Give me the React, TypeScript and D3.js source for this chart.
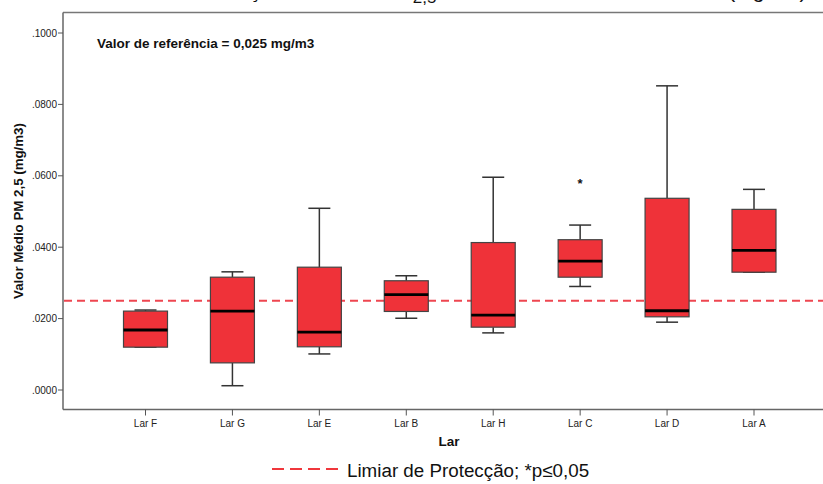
import React from "react";
import * as d3 from "d3";

const categories = ["Lar F", "Lar G", "Lar E", "Lar B", "Lar H", "Lar C", "Lar D", "Lar A"];
const whiskerLow = [0.0120, 0.0012, 0.0101, 0.0201, 0.0160, 0.0290, 0.0190, 0.0330];
const q1 = [0.0120, 0.0076, 0.0121, 0.0220, 0.0176, 0.0316, 0.0205, 0.0330];
const medians = [0.0168, 0.0221, 0.0162, 0.0267, 0.0210, 0.0361, 0.0222, 0.0391];
const q3 = [0.0221, 0.0316, 0.0344, 0.0306, 0.0413, 0.0421, 0.0537, 0.0506];
const whiskerHigh = [0.0224, 0.0331, 0.0509, 0.0320, 0.0596, 0.0462, 0.0852, 0.0562];
const extremeCategory = ["Lar C"];
const extremeValue = [0.0579];
const yTicks = [0, 0.02, 0.04, 0.06, 0.08, 0.1];
const referenceValue = 0.025;

const W = 823;
const H = 484;
const FONT = "'Liberation Sans', Arial, Helvetica, sans-serif";

export default function App() {
  const x = d3.scalePoint<string>().domain(categories).range([145.5, 754]);
  const y = d3.scaleLinear().domain([0, 0.1]).range([390, 33]);
  const left = 63;
  const top = 12.5;
  const bottom = 409.5;
  const boxW = 44;
  const capW = 22;
  const fmt = (v: number) => d3.format(".4f")(v).replace(/^0/, "");

  return (
    <svg width={W} height={H} style={{ position: "absolute", left: 0, top: 0, background: "#fff" }} fontFamily={FONT}>
      {/* cropped caption at top (only its lowest pixels are visible, as in the source) */}
      <text x={44} y={-2} fontSize={21} fill="#111">
        Gráfico 3 – Concentração Média de PM
        <tspan dy={5} fontSize={17}>2,5</tspan>
        <tspan dy={-5}> no interior dos lares de idosos (mg/m3)</tspan>
      </text>

      {/* frame */}
      <line x1={left} x2={W} y1={top} y2={top} stroke="#777" strokeWidth={1.5} />
      <line x1={left} x2={left} y1={top} y2={bottom} stroke="#666" strokeWidth={1.5} />
      <line x1={left} x2={W} y1={bottom} y2={bottom} stroke="#666" strokeWidth={1.5} />

      {/* y ticks */}
      {yTicks.map((t) => (
        <g key={t}>
          <line x1={left - 5} x2={left} y1={y(t)} y2={y(t)} stroke="#555" strokeWidth={1} />
          <text x={left - 6} y={y(t)} dy="0.35em" textAnchor="end" fontSize={10} fill="#222">
            {fmt(t)}
          </text>
        </g>
      ))}

      {/* x ticks */}
      {categories.map((c) => (
        <g key={c}>
          <line x1={x(c)} x2={x(c)} y1={bottom} y2={bottom + 6} stroke="#555" strokeWidth={1} />
          <text x={x(c)} y={423} dy="0.35em" textAnchor="middle" fontSize={10} fill="#222">
            {c}
          </text>
        </g>
      ))}

      {/* axis titles */}
      <text x={449} y={441} dy="0.35em" textAnchor="middle" fontSize={13.5} fontWeight="bold" fill="#111">
        Lar
      </text>
      <text
        transform={`translate(18, ${(top + bottom) / 2}) rotate(-90)`}
        dy="0.35em"
        textAnchor="middle"
        fontSize={13.3}
        fontWeight="bold"
        fill="#111"
      >
        Valor Médio PM 2,5 (mg/m3)
      </text>

      <text x={97} y={43} dy="0.35em" fontSize={13.5} fontWeight="bold" fill="#111">
        Valor de referência = 0,025 mg/m3
      </text>

      {/* reference line */}
      <line
        x1={left + 1}
        x2={W}
        y1={y(referenceValue)}
        y2={y(referenceValue)}
        stroke="#EE4650"
        strokeWidth={2}
        strokeDasharray="8,5"
      />

      {/* boxes */}
      {categories.map((c, i) => {
        const cx = x(c) as number;
        return (
          <g key={c}>
            <line x1={cx} x2={cx} y1={y(whiskerHigh[i])} y2={y(q3[i])} stroke="#333" strokeWidth={1.5} />
            <line x1={cx} x2={cx} y1={y(q1[i])} y2={y(whiskerLow[i])} stroke="#333" strokeWidth={1.5} />
            <line x1={cx - capW / 2} x2={cx + capW / 2} y1={y(whiskerHigh[i])} y2={y(whiskerHigh[i])} stroke="#333" strokeWidth={1.5} />
            <line x1={cx - capW / 2} x2={cx + capW / 2} y1={y(whiskerLow[i])} y2={y(whiskerLow[i])} stroke="#333" strokeWidth={1.5} />
            <rect
              x={cx - boxW / 2}
              y={y(q3[i])}
              width={boxW}
              height={y(q1[i]) - y(q3[i])}
              fill="#EF3239"
              stroke="#444"
              strokeWidth={1.2}
            />
            <line x1={cx - boxW / 2} x2={cx + boxW / 2} y1={y(medians[i])} y2={y(medians[i])} stroke="#000" strokeWidth={2.8} />
          </g>
        );
      })}

      {/* extremes */}
      {extremeCategory.map((c, i) => (
        <text key={c} x={x(c)} y={y(extremeValue[i]) + 5} textAnchor="middle" fontSize={13} fontWeight="bold" fill="#111">
          *
        </text>
      ))}

      {/* legend */}
      <line x1={272} x2={338} y1={469} y2={469} stroke="#F0373C" strokeWidth={2.2} strokeDasharray="12,6" />
      <text x={347} y={477} fontSize={18.8} fill="#111">
        Limiar de Protecção; *p≤0,05
      </text>
    </svg>
  );
}
